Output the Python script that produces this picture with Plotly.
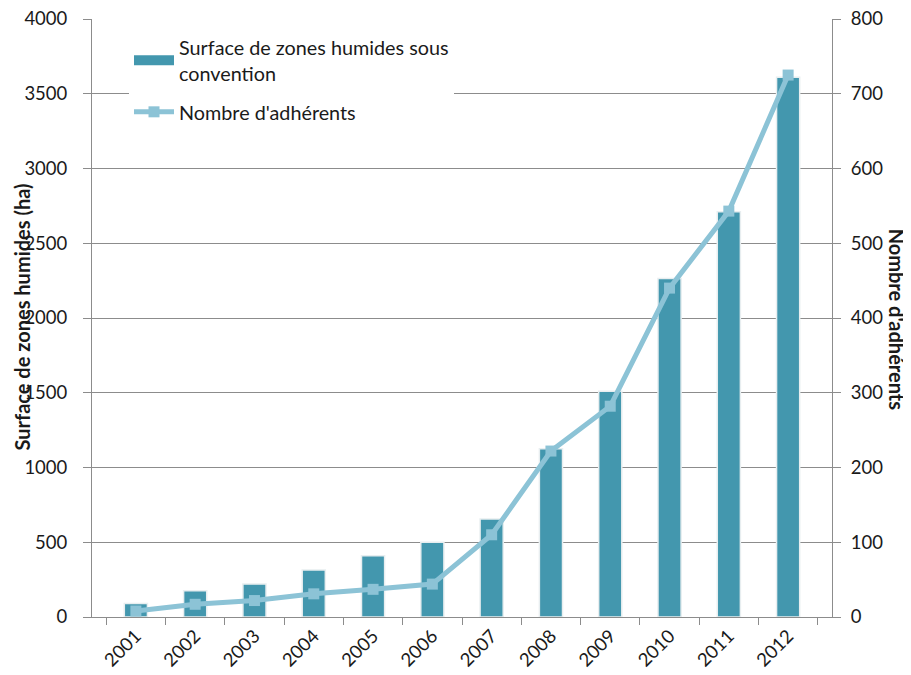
import plotly.graph_objects as go

years = ["2001", "2002", "2003", "2004", "2005", "2006", "2007", "2008", "2009", "2010", "2011", "2012"]
surface_ha = [90, 175, 220, 315, 410, 500, 655, 1125, 1510, 2265, 2710, 3610]
adherents = [8, 17, 22, 31, 37, 44, 110, 222, 282, 440, 543, 725]

bar_color = "#4397ae"
line_color = "#8cc3d6"
grid_color = "#8c8c8c"
font_family = "Lato, 'Open Sans', sans-serif"

fig = go.Figure()
fig.add_trace(go.Bar(
    x=years, y=surface_ha,
    name="Surface de zones humides sous<br>convention",
    marker=dict(color=bar_color, line=dict(color="#e8eef0", width=1.5)),
    width=0.39,
    yaxis="y",
    showlegend=False,
))
# legend-only entry drawn as a wide block, like the reference's bar key
fig.add_trace(go.Scatter(
    x=[None], y=[None],
    name="Surface de zones humides sous<br>convention",
    mode="lines",
    line=dict(color=bar_color, width=11),
    legendgroup="a",
    yaxis="y",
))
fig.add_trace(go.Scatter(
    x=years, y=adherents,
    name="Nombre d'adhérents",
    mode="lines+markers",
    line=dict(color=line_color, width=5),
    marker=dict(symbol="square", size=11, color=line_color),
    legendgroup="b",
    yaxis="y2",
))

tick_font = dict(size=18.5, color="#1a1a1a")

# page body has an 8px margin, so the figure is sized to fit the window
fig.update_layout(
    width=903, height=667,
    margin=dict(l=84, r=79, t=11, b=58, autoexpand=False),
    paper_bgcolor="white", plot_bgcolor="white",
    font=dict(family=font_family, size=18, color="#1a1a1a"),
    showlegend=True,
    legend=dict(
        x=0.05, y=0.985, xanchor="left", yanchor="top",
        bgcolor="white", font=dict(size=19.8),
        tracegroupgap=10, itemwidth=40,
    ),
    xaxis=dict(
        type="category", tickangle=-45, automargin=False,
        showline=True, linecolor=grid_color, linewidth=1,
        ticks="outside", tickson="boundaries", ticklen=7, tickcolor=grid_color,
        tickfont=tick_font, ticklabeloverflow="allow",
    ),
    yaxis=dict(
        range=[0, 4000], dtick=500, automargin=False,
        showgrid=True, gridcolor=grid_color, gridwidth=1,
        showline=True, linecolor=grid_color, linewidth=1,
        ticks="outside", ticklen=8, tickcolor=grid_color,
        ticklabelstandoff=12, ticklabeloverflow="allow",
        tickfont=tick_font,
        zeroline=False,
    ),
    yaxis2=dict(
        range=[0, 800], dtick=100, overlaying="y", side="right", automargin=False,
        showgrid=False,
        showline=True, linecolor=grid_color, linewidth=1,
        ticks="outside", ticklen=8, tickcolor=grid_color,
        ticklabelstandoff=6, ticklabeloverflow="allow",
        tickfont=tick_font, zeroline=False,
    ),
    bargap=0.6,
)

fig.add_annotation(
    text="<b>Surface de zones humides (ha)</b>", textangle=-90,
    xref="paper", yref="paper", x=-0.095, y=0.502,
    xanchor="center", yanchor="middle", showarrow=False,
    font=dict(size=20, family=font_family, color="#1a1a1a"),
)
fig.add_annotation(
    text="<b>Nombre d'adhérents</b>", textangle=90,
    xref="paper", yref="paper", x=1.088, y=0.497,
    xanchor="center", yanchor="middle", showarrow=False,
    font=dict(size=20, family=font_family, color="#1a1a1a"),
)

fig.write_html("out.html")
